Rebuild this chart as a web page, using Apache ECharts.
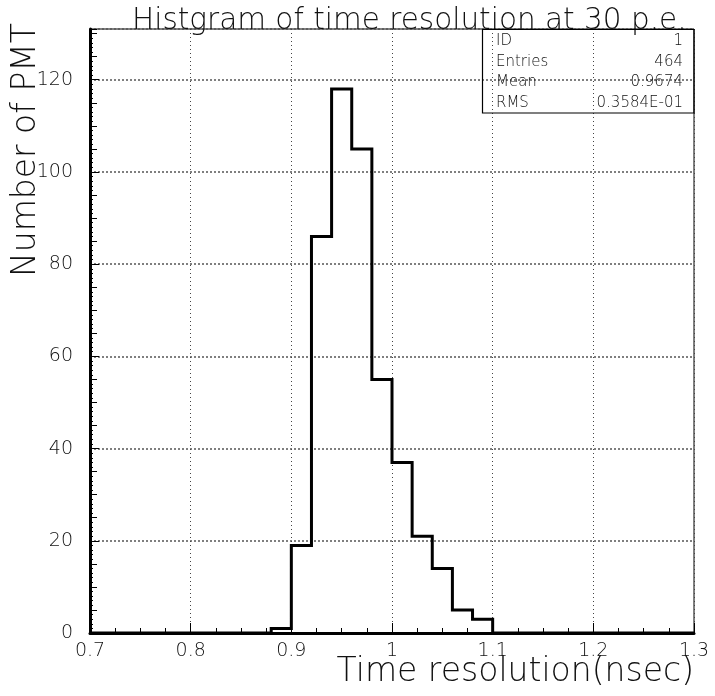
<!DOCTYPE html>
<html>
<head>
<meta charset="utf-8">
<script src="https://cdn.jsdelivr.net/npm/echarts@6/dist/echarts.min.js"></script>
<style>html,body{margin:0;padding:0;background:#fff;}#c{width:715px;height:696px;}</style>
</head>
<body>
<div id="c"></div>
<script>
// ---- data ----
const binLowEdges = [0.70,0.72,0.74,0.76,0.78,0.80,0.82,0.84,0.86,0.88,0.90,0.92,0.94,0.96,0.98,1.00,1.02,1.04,1.06,1.08,1.10,1.12,1.14,1.16,1.18,1.20,1.22,1.24,1.26,1.28];
const binUpperEnd = 1.30;
const counts = [0,0,0,0,0,0,0,0,0,1,19,86,118,105,55,37,21,14,5,3,0,0,0,0,0,0,0,0,0,0];
const titleText = 'Histgram of time resolution at 30 p.e.';
const xTitle = 'Time resolution(nsec)';
const yTitle = 'Number of PMT';
const statLabels = ['ID','Entries','Mean','RMS'];
const statValues = ['1','464','0.9674','0.3584E-01'];
const xMin = 0.7, xMax = 1.3, yMin = 0, yMax = 131;

// ---- chart ----
const FONT = 'DejaVu Sans';
const NUMFONT = '"DejaVu Sans", sans-serif';
const stepData = binLowEdges.map((x, i) => [x, counts[i]]);
stepData.push([binUpperEnd, 0]);

const chart = echarts.init(document.getElementById('c'), null, {renderer: 'canvas'});
const G = {left: 90, top: 29, width: 604, height: 604};

const statRowH = 20.7;
const graphics = [];
graphics.push({type: 'text', left: 132, top: 6, style: {text: titleText, font: '200 29.5px "' + FONT + '"', fill: '#111'}, z: 10});
graphics.push({type: 'text', right: 21, top: 656, style: {text: xTitle, font: '200 33px "' + FONT + '"', fill: '#111'}, z: 10});
graphics.push({type: 'text', x: 10, y: 150, rotation: Math.PI / 2, style: {text: yTitle, font: '200 33px "' + FONT + '"', fill: '#111', align: 'center', verticalAlign: 'top'}, z: 10});
graphics.push({type: 'rect', shape: {x: 482.5, y: 29.5, width: 211.5, height: 83.5}, style: {fill: 'none', stroke: '#000', lineWidth: 1.2}, z: 10});
statLabels.forEach((s, i) => {
  graphics.push({type: 'text', x: 496, y: 41 + i * statRowH, style: {text: s, font: '200 15px "' + FONT + '"', fill: '#111', verticalAlign: 'middle', align: 'left'}, z: 10});
  graphics.push({type: 'text', x: 683, y: 41 + i * statRowH, style: {text: statValues[i], font: '200 15px "' + FONT + '"', fill: '#111', verticalAlign: 'middle', align: 'right'}, z: 10});
});

const fmt = v => String(+(+v).toFixed(3));

chart.setOption({
  animation: false,
  backgroundColor: '#fff',
  grid: {left: G.left, top: G.top, width: G.width, height: G.height, show: true, borderColor: '#000', borderWidth: 1, containLabel: false, outerBoundsMode: 'none'},
  xAxis: [{
    type: 'value', min: xMin, max: xMax, interval: 0.1,
    axisLine: {show: true, lineStyle: {color: '#000', width: 3}},
    axisTick: {show: true, inside: true, length: 10, lineStyle: {color: '#000', width: 1}},
    minorTick: {show: true, splitNumber: 4, length: 5, lineStyle: {color: '#000', width: 1}},
    axisLabel: {show: true, margin: 9, formatter: fmt, fontFamily: NUMFONT, fontWeight: 200, fontSize: 19, color: '#111', showMaxLabel: true, showMinLabel: true},
    splitLine: {show: true, lineStyle: {color: '#444', width: 1, type: [1, 3]}}
  }],
  yAxis: [{
    type: 'value', min: yMin, max: yMax, interval: 20,
    axisLine: {show: true, lineStyle: {color: '#000', width: 3}},
    axisTick: {show: true, inside: true, length: 9, lineStyle: {color: '#000', width: 1}},
    axisLabel: {show: true, margin: 17, formatter: fmt, fontFamily: NUMFONT, fontWeight: 200, fontSize: 19, color: '#111', showMaxLabel: false},
    splitLine: {show: true, lineStyle: {color: '#555', width: 1.5, type: [2, 2]}}
  }, {
    type: 'value', min: yMin, max: yMax, interval: 5, position: 'left', offset: 0,
    axisLine: {show: false}, axisLabel: {show: false}, splitLine: {show: false},
    axisTick: {show: true, inside: true, length: 7, lineStyle: {color: '#000', width: 1}}
  }, {
    type: 'value', min: yMin, max: yMax, interval: 1, position: 'left', offset: 0,
    axisLine: {show: false}, axisLabel: {show: false}, splitLine: {show: false},
    axisTick: {show: true, inside: true, length: 3, lineStyle: {color: '#000', width: 1}}
  }],
  series: [{
    type: 'line', step: 'end', data: stepData, symbol: 'none', xAxisIndex: 0, yAxisIndex: 0,
    lineStyle: {color: '#000', width: 3, join: 'miter'}, z: 5, clip: false
  }],
  graphic: graphics
});
</script>
</body>
</html>
